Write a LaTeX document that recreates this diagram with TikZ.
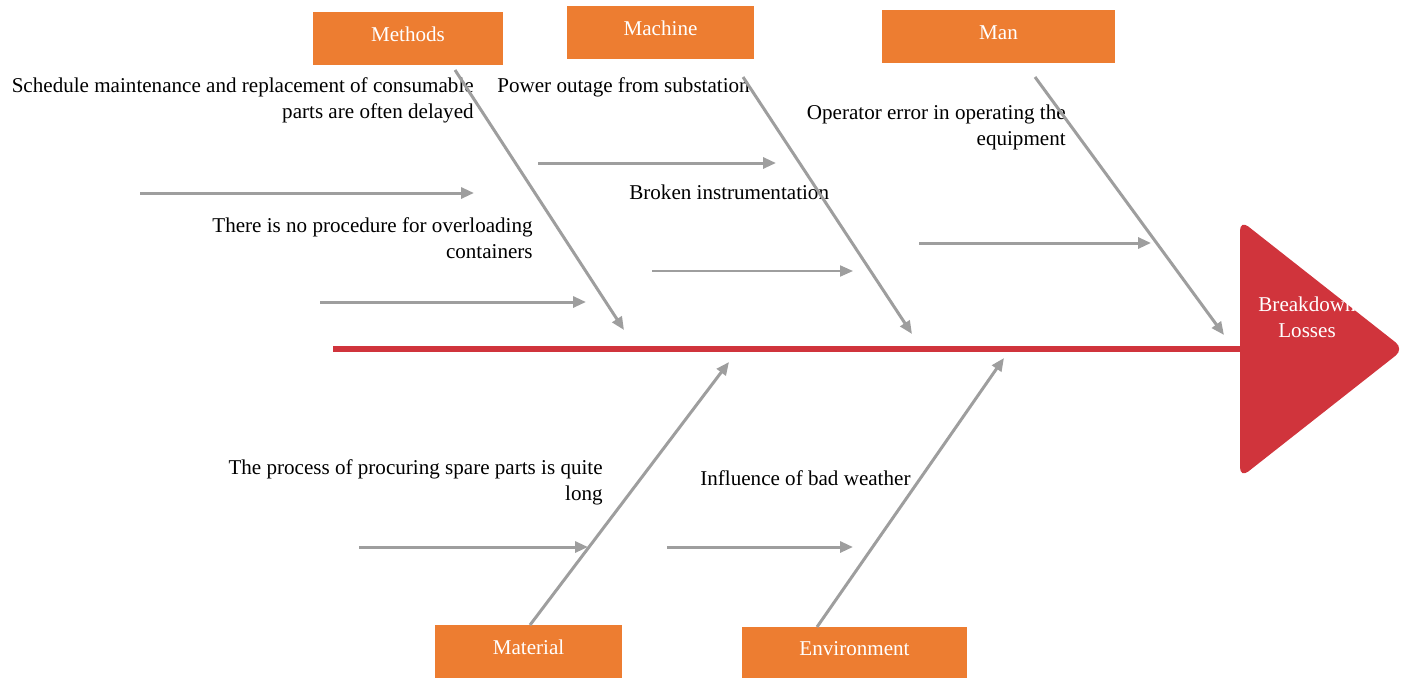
\documentclass[tikz,border=0pt]{standalone}
\usepackage{fontspec}
\setmainfont{Liberation Serif}
\usetikzlibrary{arrows.meta}
\definecolor{catorange}{HTML}{ED7D31}
\definecolor{spinered}{HTML}{D0343C}
\definecolor{bonegray}{HTML}{9E9E9E}
\tikzset{
  cause/.style={fill=catorange, text=white, minimum height=1.06cm, inner sep=0pt, text depth=4.5pt},
  bone/.style={draw=bonegray, line width=0.06cm, -{Triangle[length=0.26cm,width=0.22cm]}},
  note/.style={align=right, inner sep=0pt, anchor=east},
}
\begin{document}
\begin{tikzpicture}[x=0.02cm,y=-0.02cm,font=\fontsize{12}{14.8}\selectfont]
\useasboundingbox (0,0) rectangle (1408,679);

\fill[spinered, rounded corners=6pt] (1240,220) -- (1404,349) -- (1240,478) -- cycle;
\node[text=white, align=center, inner sep=0pt] (effect) at (1307,317) {Breakdown\\Losses};
\coordinate (tail) at (333,349);
\coordinate (head) at (1241,349);
\draw[spinered, line width=0.12cm] (tail) -- (head);

\node[cause, minimum width=3.8cm] (methods) at (408,38.5) {Methods};
\node[cause, minimum width=3.74cm] (machine) at (660.5,32.5) {Machine};
\node[cause, minimum width=4.66cm] (man) at (998.5,36.5) {Man};
\node[cause, minimum width=3.74cm] (material) at (528.5,651.5) {Material};
\node[cause, minimum width=4.5cm, minimum height=1.02cm] (environment) at (854.5,652.5) {Environment};

\node[note] (schedule) at (474,100) {Schedule maintenance and replacement of consumable\\parts are often delayed};
\node[note, anchor=west] (power) at (497,87) {Power outage from substation};
\node[note] (operator) at (1066,127.5) {Operator error in operating the\\equipment};
\node[note, anchor=west] (broken) at (629,192) {Broken instrumentation};
\node[note] (procedure) at (533,238.5) {There is no procedure for overloading\\containers};
\node[note] (procuring) at (603,482.5) {The process of procuring spare parts is quite\\long};
\node[note, anchor=west] (weather) at (700,478) {Influence of bad weather};

\coordinate (methods-a) at (455,70);
\coordinate (methods-b) at (624,330);
\coordinate (machine-a) at (743,77);
\coordinate (machine-b) at (912,334);
\coordinate (man-a) at (1035,77);
\coordinate (man-b) at (1224,335);
\coordinate (material-a) at (530,625);
\coordinate (material-b) at (729,362);
\coordinate (environment-a) at (817,627);
\coordinate (environment-b) at (1004,358);
\draw[bone] (methods-a) -- (methods-b);
\draw[bone] (machine-a) -- (machine-b);
\draw[bone] (man-a) -- (man-b);
\draw[bone] (material-a) -- (material-b);
\draw[bone] (environment-a) -- (environment-b);

\coordinate (schedule-a) at (140,193);
\coordinate (schedule-b) at (474,193);
\coordinate (procedure-a) at (320,302);
\coordinate (procedure-b) at (586,302);
\coordinate (power-a) at (538,163);
\coordinate (power-b) at (776,163);
\coordinate (broken-a) at (652,271);
\coordinate (broken-b) at (853,271);
\coordinate (operator-a) at (919,243);
\coordinate (operator-b) at (1151,243);
\coordinate (procuring-a) at (359,547);
\coordinate (procuring-b) at (588,547);
\coordinate (weather-a) at (667,547);
\coordinate (weather-b) at (853,547);
\draw[bone] (schedule-a) -- (schedule-b);
\draw[bone] (procedure-a) -- (procedure-b);
\draw[bone] (power-a) -- (power-b);
\draw[bone, line width=0.04cm] (broken-a) -- (broken-b);
\draw[bone] (operator-a) -- (operator-b);
\draw[bone] (procuring-a) -- (procuring-b);
\draw[bone] (weather-a) -- (weather-b);
\end{tikzpicture}
\end{document}
